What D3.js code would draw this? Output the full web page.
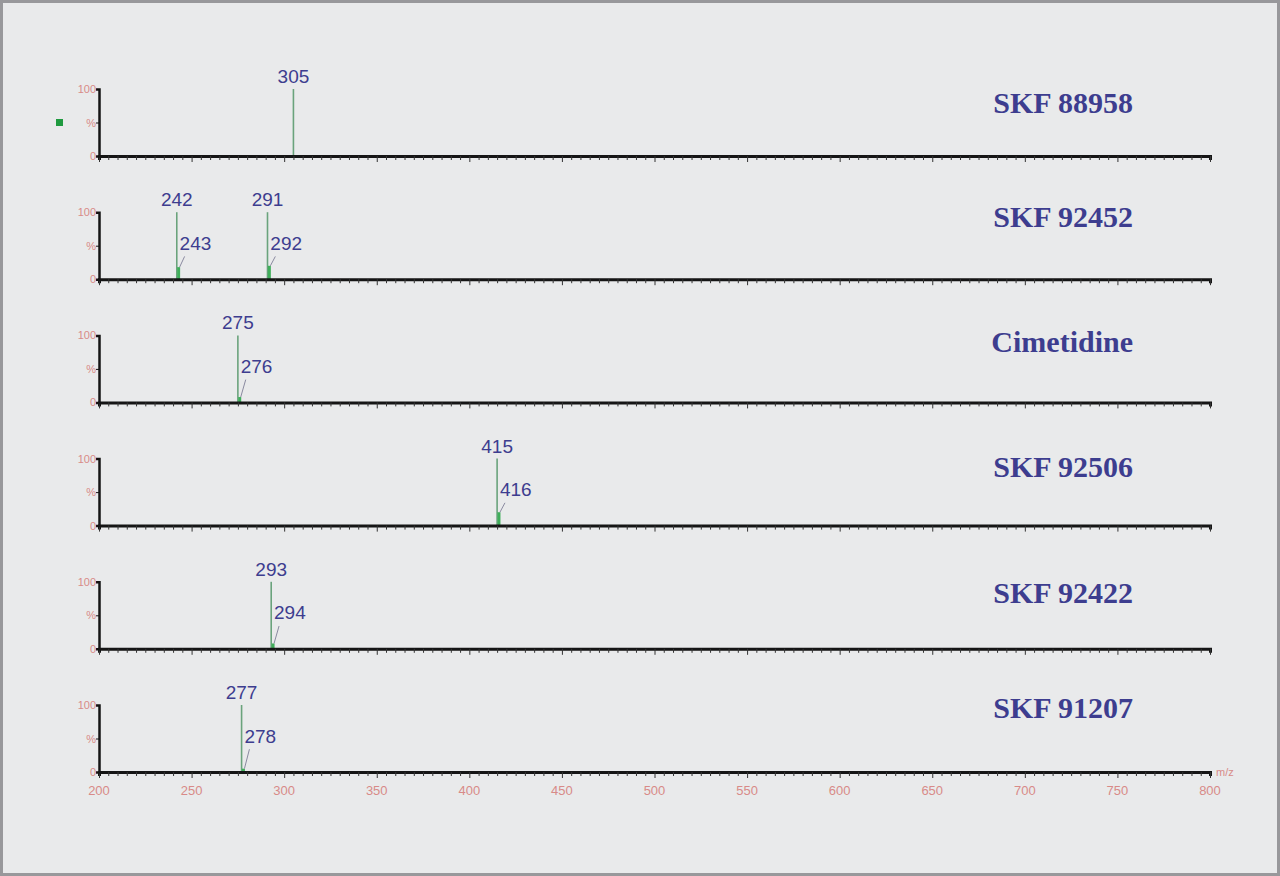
<!DOCTYPE html>
<html><head><meta charset="utf-8">
<script src="https://cdn.jsdelivr.net/npm/d3@7"></script>
<style>html,body{margin:0;padding:0;background:#fff;}svg{display:block;}</style>
</head><body>
<script>
const compounds = ["SKF 88958","SKF 92452","Cimetidine","SKF 92506","SKF 92422","SKF 91207"];
const peakMz = [[305],[242,243,291,292],[275,276],[415,416],[293,294],[277,278]];
const peakIntensity = [[100],[100,18,100,20],[100,8],[100,20],[100,8],[100,5]];
const xTicks = [200,250,300,350,400,450,500,550,600,650,700,750,800];
const yLabels = ["100","%","0"];

// layout: vertical centre of each compound title
const titleCenterY = [103,217,342,467,593,708];

const W=1280,H=876;
const svg=d3.select("body").append("svg").attr("width",W).attr("height",H);
svg.append("rect").attr("x",1.5).attr("y",1.5).attr("width",W-3).attr("height",H-3)
  .attr("fill","#e9eaeb").attr("stroke","#98989b").attr("stroke-width",3);

const x=d3.scaleLinear().domain([200,800]).range([99,1210]);
const panelTop=d3.scaleLinear().domain([0,5]).range([89,705]);
const ph=67;
const peakColor="#6aa37c", labelColor="#3d3d8f", axisPink="#d88a88";

compounds.forEach((name,i)=>{
  const top=panelTop(i), base=top+ph;
  const y=d3.scaleLinear().domain([0,100]).range([base,top]);
  const g=svg.append("g");
  const pk=peakMz[i].map((m,j)=>({m,v:peakIntensity[i][j],main:peakIntensity[i][j]>=50}));
  g.selectAll("line.pk").data(pk).join("line")
    .attr("x1",d=>x(d.m)).attr("x2",d=>x(d.m)).attr("y1",y(0)).attr("y2",d=>y(d.v))
    .attr("stroke",d=>d.main?peakColor:"#3fae5a").attr("stroke-width",d=>d.main?1.6:3);
  g.selectAll("text.main").data(pk.filter(d=>d.main)).join("text")
    .attr("x",d=>x(d.m)).attr("y",top-6).attr("text-anchor","middle")
    .attr("font-family","Liberation Sans, Arial, sans-serif").attr("font-size",19)
    .attr("fill",labelColor).text(d=>d.m);
  const sec=pk.filter(d=>!d.main);
  g.selectAll("text.sec").data(sec).join("text")
    .attr("x",d=>x(d.m)+1).attr("y",y(44)).attr("text-anchor","start")
    .attr("font-family","Liberation Sans, Arial, sans-serif").attr("font-size",19)
    .attr("fill",labelColor).text(d=>d.m);
  g.selectAll("line.lead").data(sec).join("line")
    .attr("x1",d=>x(d.m)+6).attr("y1",y(34)).attr("x2",d=>x(d.m)+1).attr("y2",d=>y(d.v))
    .attr("stroke","#8a8aa0").attr("stroke-width",1);
  const xa=d3.axisBottom(x).tickValues(d3.range(200,801,5)).tickSize(4).tickFormat("");
  const ax=g.append("g").attr("transform",`translate(0,${base})`).call(xa);
  ax.select(".domain").attr("stroke","#151515").attr("stroke-width",3);
  ax.selectAll(".tick line").attr("stroke","#333").attr("stroke-width",1)
    .attr("y2",d=>d%50===0?6:4);
  const ya=d3.axisLeft(y).tickValues([0,50,100]).tickSize(3).tickFormat((d,k)=>yLabels[2-k]);
  const ay=g.append("g").attr("transform",`translate(${x(200)},0)`).call(ya);
  ay.select(".domain").attr("stroke","#151515").attr("stroke-width",2.5);
  ay.selectAll(".tick line").attr("stroke","#151515");
  ay.selectAll(".tick text").attr("fill",axisPink).attr("font-size",11)
    .attr("font-family","Liberation Sans, Arial, sans-serif").attr("x",-3);
  g.append("text").attr("x",1133).attr("y",titleCenterY[i]+10).attr("text-anchor","end")
    .attr("font-family","Liberation Serif, Times New Roman, serif").attr("font-weight","bold")
    .attr("font-size",30).attr("fill",labelColor).text(name);
  if(i===0){
    g.append("rect").attr("x",56).attr("y",top+30).attr("width",7).attr("height",7).attr("fill","#1f9a3f");
  }
  if(i===compounds.length-1){
    g.selectAll("text.xt").data(xTicks).join("text")
      .attr("x",d=>x(d)).attr("y",base+23).attr("text-anchor","middle")
      .attr("font-family","Liberation Sans, Arial, sans-serif").attr("font-size",13)
      .attr("fill",axisPink).text(d=>d);
    g.append("text").attr("x",1216).attr("y",base+4).attr("font-family","Liberation Sans, Arial, sans-serif")
      .attr("font-size",11).attr("fill",axisPink).text("m/z");
  }
});
</script>
</body></html>
